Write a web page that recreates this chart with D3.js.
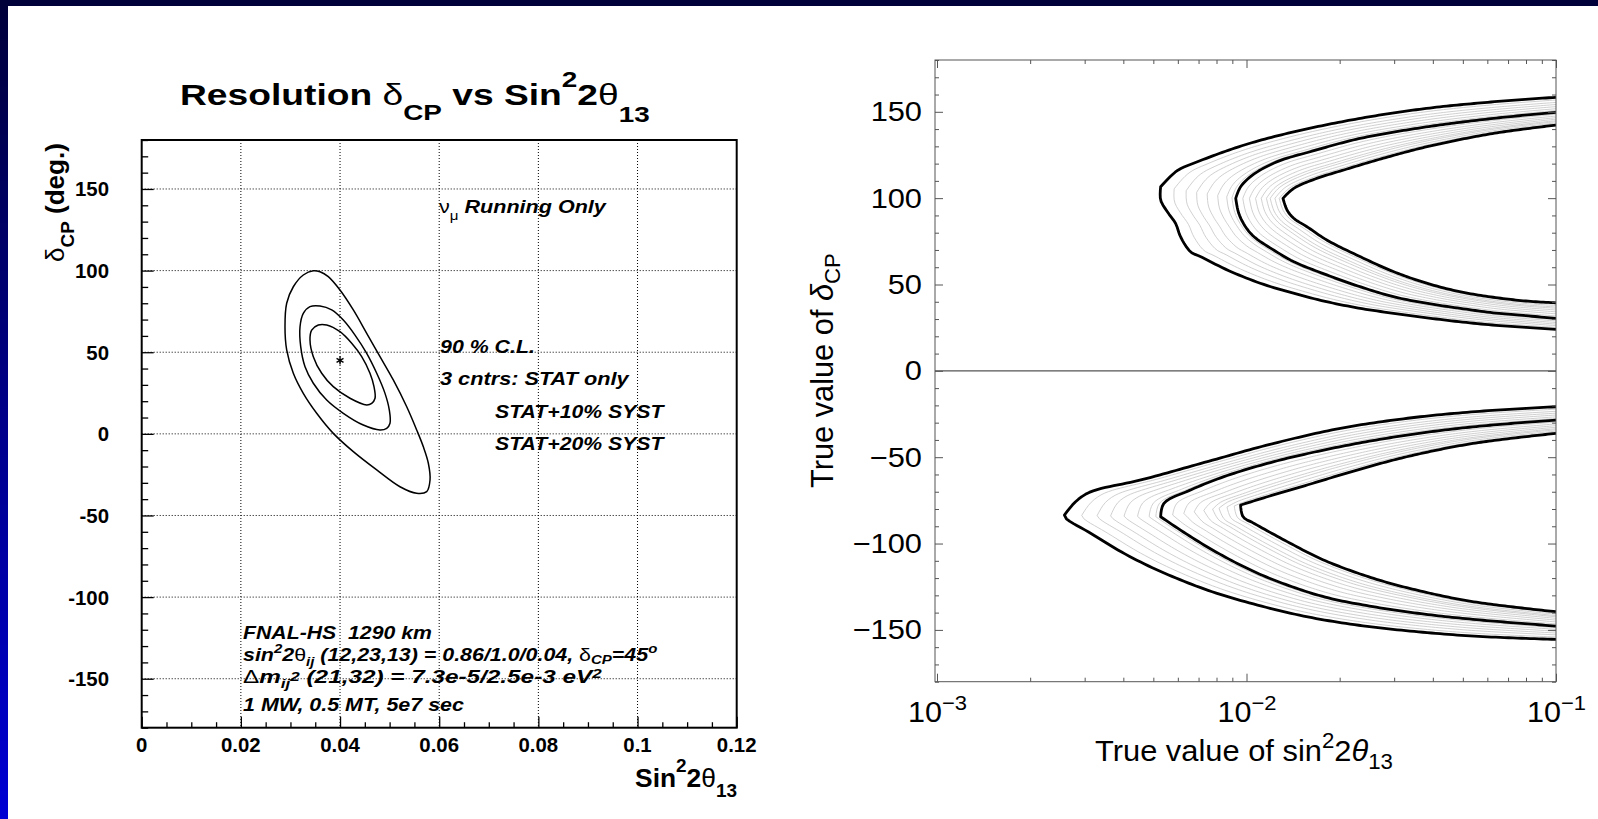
<!DOCTYPE html>
<html><head><meta charset="utf-8">
<script src="https://cdn.jsdelivr.net/npm/d3@7"></script>
<style>body{margin:0;background:#fff;}svg{display:block;}</style>
</head><body>
<svg id="c" width="1598" height="819"></svg>
<script>
// ---------------- DATA ----------------
// Left panel: 90% C.L. contours around the true point (sin^2 2theta13, deltaCP)
const leftXTicks = [0, 0.02, 0.04, 0.06, 0.08, 0.1, 0.12];
const leftXTickLabels = ["0", "0.02", "0.04", "0.06", "0.08", "0.1", "0.12"];
const leftYTicks = [-150, -100, -50, 0, 50, 100, 150];
const leftYTickLabels = ["-150", "-100", "-50", "0", "50", "100", "150"];
const bestFit = [0.04, 45];
const contourStat = [[0.03562,66.7],[0.03428,63.6],[0.03394,57.5],[0.03461,47.3],[0.0363,37.1],[0.03864,28.9],[0.04201,21.8],[0.04538,17.7],[0.04639,18.7],[0.04706,21.8],[0.04685,28.9],[0.04604,37.1],[0.04437,47.3],[0.04235,55.5],[0.03999,62.6],[0.03731,66.7]];
const contourSyst10 = [[0.03394,77.9],[0.03259,73.8],[0.03193,65.6],[0.03207,53.4],[0.03294,41.1],[0.03461,31.0],[0.03731,20.7],[0.04066,12.6],[0.04469,5.4],[0.04806,2.4],[0.04941,3.4],[0.05008,6.5],[0.04994,14.6],[0.04907,24.8],[0.0474,37.1],[0.04538,49.3],[0.04302,60.5],[0.04066,69.7],[0.03832,75.9],[0.03596,78.3]];
const contourSyst20 = [[0.03461,99.9],[0.03259,97.3],[0.03058,90.1],[0.02924,80.0],[0.0289,65.6],[0.02924,51.4],[0.03058,37.1],[0.03259,24.8],[0.03529,12.6],[0.03864,0.3],[0.04268,-10.9],[0.0474,-22.1],[0.05209,-32.4],[0.05546,-36.4],[0.05748,-35.4],[0.05815,-28.3],[0.05781,-18.0],[0.0568,-7.9],[0.05546,2.4],[0.05345,16.6],[0.05074,33.0],[0.04806,47.3],[0.04538,61.6],[0.04268,75.9],[0.03999,88.1],[0.03763,96.3],[0.03596,99.3]];

// Right panel: CP-resolution bands vs true sin^2 2theta13 (log x)
const rightYTicks = [-150, -100, -50, 0, 50, 100, 150];
const rightYTickLabels = ["\u2212150", "\u2212100", "\u221250", "0", "50", "100", "150"];
const rightXTicks = [1e-3, 1e-2, 1e-1];
const rightXTickExponents = ["\u22123", "\u22122", "\u22121"];
const upperOuter = [[0.1,158.4],[0.0628,155.8],[0.0383,152.0],[0.0233,146.2],[0.01422,138.4],[0.0098,130.7],[0.00693,121.0],[0.00597,115.9],[0.00528,106.6],[0.00528,98.9],[0.00555,92.1],[0.0059,85.4],[0.00612,77.7],[0.00659,69.0],[0.00711,66.1],[0.00867,58.4],[0.01109,50.7],[0.01422,44.9],[0.0182,40.0],[0.0233,36.2],[0.0299,33.3],[0.0383,30.7],[0.049,28.4],[0.0628,26.5],[0.1,24.0]];
const upperMiddle = [[0.1,149.7],[0.0628,146.2],[0.0383,141.3],[0.0233,134.6],[0.01607,126.9],[0.01256,121.1],[0.01054,113.8],[0.00957,106.6],[0.00923,99.9],[0.00944,91.2],[0.00993,83.4],[0.01057,77.7],[0.01225,69.9],[0.01422,63.2],[0.0182,55.5],[0.0233,48.7],[0.0299,42.9],[0.0383,39.1],[0.049,36.2],[0.0628,33.6],[0.0804,31.9],[0.1,30.4]];
const upperInner = [[0.1,142.3],[0.0628,137.5],[0.0383,129.8],[0.02642,122.1],[0.02061,116.3],[0.0169,111.5],[0.01422,105.7],[0.01312,99.9],[0.01352,93.1],[0.01422,88.3],[0.0157,83.4],[0.0182,75.7],[0.0233,66.1],[0.0299,57.4],[0.0383,50.7],[0.049,45.8],[0.0628,42.6],[0.0804,40.4],[0.1,39.4]];
const lowerOuter = [[0.1,-20.8],[0.0541,-23.7],[0.033,-27.5],[0.0201,-33.3],[0.01225,-42.0],[0.00746,-52.6],[0.00455,-63.2],[0.00326,-69.0],[0.00299,-71.9],[0.00277,-76.7],[0.00258,-83.5],[0.00261,-85.4],[0.00314,-94.1],[0.00402,-105.7],[0.00515,-115.3],[0.00746,-126.9],[0.01084,-135.6],[0.0157,-142.4],[0.0228,-147.2],[0.033,-150.5],[0.0541,-153.6],[0.1,-155.5]];
const lowerMiddle = [[0.1,-28.5],[0.0541,-32.4],[0.033,-37.2],[0.0201,-43.9],[0.01225,-52.6],[0.00845,-61.3],[0.00659,-69.0],[0.00541,-76.7],[0.00528,-84.5],[0.00612,-92.2],[0.00746,-101.9],[0.00957,-112.5],[0.01225,-121.1],[0.01778,-130.8],[0.02576,-136.6],[0.0373,-140.8],[0.0541,-143.9],[0.1,-147.8]];
const lowerInner = [[0.1,-36.2],[0.0541,-42.0],[0.033,-49.7],[0.0228,-57.4],[0.0157,-66.1],[0.01167,-72.9],[0.00957,-77.7],[0.00975,-84.5],[0.01057,-88.3],[0.01387,-99.9],[0.01778,-109.6],[0.02576,-120.2],[0.0373,-127.9],[0.0541,-133.7],[0.1,-139.5]];
// relative positions of the thin grey contours inside each band
const greyLevelsOuterBand = [0.18, 0.34, 0.48, 0.62, 0.76, 0.88, 0.95];
const greyLevelsInnerBand = [0.15, 0.29, 0.42, 0.54, 0.65, 0.73, 0.83, 0.92];

// ---------------- HELPERS ----------------
const FONT = "'Liberation Sans', Arial, Helvetica, sans-serif";
const svg = d3.select("#c");

function richText(parent, segs, o) {
  const g = parent.append("g").attr("transform", `translate(${o.x},${o.y})` + (o.rotate ? ` rotate(${o.rotate})` : ""));
  const t = g.append("text").attr("text-anchor", o.anchor || "start").attr("font-family", FONT)
    .attr("font-size", o.size).attr("font-weight", o.weight || "normal")
    .attr("font-style", o.style || "normal").attr("fill", o.fill || "#000");
  let shift = 0;
  segs.forEach(s => {
    const sp = t.append("tspan").text(s.t);
    let target = 0;
    if (s.sub) target = o.size * (s.dy != null ? s.dy : (o.subDy || 0.45));
    else if (s.sup) target = -o.size * (s.dy != null ? s.dy : (o.supDy || 0.5));
    if (target - shift !== 0) sp.attr("dy", target - shift);
    shift = target;
    if (s.sub || s.sup) sp.attr("font-size", o.size * (s.scale || o.subScale || 0.72));
    if (s.w) sp.attr("font-weight", s.w);
    if (s.st) sp.attr("font-style", s.st);
    if (s.dx) sp.attr("dx", s.dx);
  });
  if (o.width) {
    const w = t.node().getBBox().width;
    t.attr("transform", `scale(${o.width / w},1)`);
  } else if (o.sx) t.attr("transform", `scale(${o.sx},1)`);
  return t;
}
function tickAxis(g, axisFn, scale, values, size, color, width, transform) {
  const a = g.append("g").attr("transform", transform)
    .call(axisFn(scale).tickValues(values).tickSize(size).tickFormat(""));
  a.select(".domain").remove();
  a.selectAll("line").attr("stroke", color).attr("stroke-width", width);
  return a;
}

// ---------------- BACKGROUND / FRAME ----------------
svg.append("rect").attr("width", 1598).attr("height", 819).attr("fill", "#fff");
const defs = svg.append("defs");
const grad = defs.append("linearGradient").attr("id", "lb").attr("x1", 0).attr("y1", 0).attr("x2", 0).attr("y2", 1);
grad.append("stop").attr("offset", "0").attr("stop-color", "#00003a");
grad.append("stop").attr("offset", "0.5").attr("stop-color", "#000088");
grad.append("stop").attr("offset", "1").attr("stop-color", "#0000d4");
svg.append("rect").attr("x", 0).attr("y", 0).attr("width", 8).attr("height", 819).attr("fill", "url(#lb)");
svg.append("rect").attr("x", 0).attr("y", 0).attr("width", 1598).attr("height", 6).attr("fill", "#00003a");

// ---------------- LEFT PANEL ----------------
const L = {x0: 141.7, x1: 736.7, y0: 140, y1: 727.7};
const xL = d3.scaleLinear().domain([0, 0.12]).range([L.x0, L.x1]);
const yL = d3.scaleLinear().domain([-180, 180]).range([L.y1, L.y0]);
const lg = svg.append("g");

// grid (dotted)
lg.append("g").selectAll("line").data(leftXTicks.filter(v => v > 0 && v < 0.12)).join("line")
  .attr("x1", d => xL(d)).attr("x2", d => xL(d)).attr("y1", L.y0).attr("y2", L.y1)
  .attr("stroke", "#000").attr("stroke-width", 1).attr("stroke-dasharray", "1,2");
lg.append("g").selectAll("line").data(leftYTicks).join("line")
  .attr("y1", d => yL(d)).attr("y2", d => yL(d)).attr("x1", L.x0).attr("x2", L.x1)
  .attr("stroke", "#000").attr("stroke-width", 1).attr("stroke-dasharray", "1,2");

// contours
const closedLine = d3.line().x(d => xL(d[0])).y(d => yL(d[1])).curve(d3.curveCatmullRomClosed.alpha(0.5));
[contourStat, contourSyst10, contourSyst20].forEach(c => {
  lg.append("path").attr("d", closedLine(c)).attr("fill", "none").attr("stroke", "#000").attr("stroke-width", 1.5);
});
const sym = d3.symbolAsterisk || d3.symbolCross;
lg.append("path").attr("d", d3.symbol(sym, 45)())
  .attr("transform", `translate(${xL(bestFit[0])},${yL(bestFit[1])})`)
  .attr("fill", d3.symbolAsterisk ? "none" : "#000").attr("stroke", "#000").attr("stroke-width", 1.4);

// ticks
const lxMinor = xL.ticks(24);
tickAxis(lg, d3.axisBottom, xL, lxMinor.filter(v => Math.abs(v / 0.02 - Math.round(v / 0.02)) > 1e-6), -5.5, "#000", 1.3, `translate(0,${L.y1})`);
tickAxis(lg, d3.axisBottom, xL, leftXTicks, -11, "#000", 1.3, `translate(0,${L.y1})`);
const lyMinor = yL.ticks(36);
tickAxis(lg, d3.axisLeft, yL, lyMinor.filter(v => v % 50 !== 0), -6.5, "#000", 1.3, `translate(${L.x0},0)`);
tickAxis(lg, d3.axisLeft, yL, leftYTicks, -12, "#000", 1.3, `translate(${L.x0},0)`);

// frame
lg.append("rect").attr("x", L.x0).attr("y", L.y0).attr("width", L.x1 - L.x0).attr("height", L.y1 - L.y0)
  .attr("fill", "none").attr("stroke", "#000").attr("stroke-width", 2);

// tick labels
leftXTicks.forEach((v, i) => richText(lg, [{t: leftXTickLabels[i]}], {x: xL(v), y: 752, anchor: "middle", size: 20, weight: "bold", sx: 1.02}));
leftYTicks.forEach((v, i) => richText(lg, [{t: leftYTickLabels[i]}], {x: 109, y: yL(v) + 7.5, anchor: "end", size: 20, weight: "bold", sx: 1.02}));

// titles
richText(lg, [{t: "Resolution "}, {t: "\u03b4", w: "normal"}, {t: "CP", sub: true, dy: 0.5}, {t: " vs Sin"}, {t: "2", sup: true, dy: 0.6},
  {t: "2"}, {t: "\u03b8", w: "normal"}, {t: "13", sub: true, dy: 0.55}],
  {x: 180, y: 105, size: 30, weight: "bold", width: 470, subScale: 0.75});
richText(lg, [{t: "Sin"}, {t: "2", sup: true, dy: 0.6}, {t: "2"}, {t: "\u03b8", w: "normal"}, {t: "13", sub: true, dy: 0.4}],
  {x: 737, y: 787, anchor: "end", size: 25, weight: "bold", width: 102, subScale: 0.72});
richText(lg, [{t: "\u03b4", w: "normal"}, {t: "CP", sub: true, dy: 0.4}, {t: " (deg.)"}],
  {x: 64, y: 143, rotate: -90, anchor: "end", size: 25, weight: "bold", width: 119, subScale: 0.72});

// annotations
const ann = {size: 18, weight: "bold", style: "italic", subScale: 0.7, subDy: 0.25, supDy: 0.42};
richText(lg, [{t: "\u03bd", w: "normal", st: "normal"}, {t: "\u03bc", sub: true, dy: 0.4, w: "normal", st: "normal"}, {t: " Running Only"}],
  Object.assign({x: 439, y: 213, width: 168}, ann));
richText(lg, [{t: "90 % C.L."}], Object.assign({x: 440, y: 353, width: 95}, ann));
richText(lg, [{t: "3 cntrs: STAT only"}], Object.assign({x: 440, y: 385, width: 190}, ann));
richText(lg, [{t: "STAT+10% SYST"}], Object.assign({x: 495, y: 418, width: 171}, ann));
richText(lg, [{t: "STAT+20% SYST"}], Object.assign({x: 495, y: 450, width: 171}, ann));
richText(lg, [{t: "FNAL-HS \u00a01290 km"}], Object.assign({x: 243, y: 639, width: 189}, ann));
richText(lg, [{t: "sin"}, {t: "2", sup: true}, {t: "2"}, {t: "\u03b8", w: "normal", st: "normal"}, {t: "ij", sub: true},
  {t: " (12,23,13) = 0.86/1.0/0.04, "}, {t: "\u03b4", w: "normal", st: "normal"}, {t: "CP", sub: true, dy: 0.18}, {t: "=45"}, {t: "o", sup: true}],
  Object.assign({x: 243, y: 661, width: 415}, ann));
richText(lg, [{t: "\u0394", w: "normal", st: "normal"}, {t: "m"}, {t: "ij", sub: true}, {t: "2", sup: true, dy: 0.1},
  {t: " (21,32) = 7.3e-5/2.5e-3 eV"}, {t: "2", sup: true, dy: 0.3}],
  Object.assign({x: 243, y: 683, width: 359}, ann));
richText(lg, [{t: "1 MW, 0.5 MT, 5e7 sec"}], Object.assign({x: 243, y: 711, width: 221}, ann));

// ---------------- RIGHT PANEL ----------------
const R = {fx0: 935, x0: 937, x1: 1556, y0: 60, y1: 681.7};
const xR = d3.scaleLog().domain([1e-3, 1e-1]).range([R.x0, R.x1]);
const yR = d3.scaleLinear().domain([-180, 180]).range([R.y1, R.y0]);
const rg = svg.append("g");
defs.append("clipPath").attr("id", "rc").append("rect")
  .attr("x", R.fx0).attr("y", R.y0).attr("width", R.x1 - R.fx0).attr("height", R.y1 - R.y0);
const plotR = rg.append("g").attr("clip-path", "url(#rc)");

function branchSamples(pts, n) {
  const p = svg.append("path").attr("d", d3.line().curve(d3.curveCatmullRom.alpha(0.5))(pts)).attr("fill", "none");
  const node = p.node(), len = node.getTotalLength();
  const out = d3.range(n + 1).map(i => { const q = node.getPointAtLength(len * i / n); return [q.x, q.y]; });
  p.remove();
  return out;
}
function curveSamples(data) {
  const pts = data.map(d => [xR(d[0]), yR(d[1])]);
  const vi = d3.minIndex(pts, p => p[0]);
  const a = branchSamples(pts.slice(0, vi + 1), 120);
  const b = branchSamples(pts.slice(vi), 120);
  return a.concat(b.slice(1));
}
const lin = d3.line();
function drawBand(outer, middle, inner) {
  const so = curveSamples(outer), sm = curveSamples(middle), si = curveSamples(inner);
  const mix = (A, B, f) => A.map((p, i) => [p[0] + (B[i][0] - p[0]) * f, p[1] + (B[i][1] - p[1]) * f]);
  greyLevelsOuterBand.forEach(f => plotR.append("path").attr("d", lin(mix(so, sm, f))).attr("fill", "none").attr("stroke", "#c4c4c4").attr("stroke-width", 0.8));
  greyLevelsInnerBand.forEach(f => plotR.append("path").attr("d", lin(mix(sm, si, f))).attr("fill", "none").attr("stroke", "#c4c4c4").attr("stroke-width", 0.8));
  [so, sm, si].forEach(s => plotR.append("path").attr("d", lin(s)).attr("fill", "none").attr("stroke", "#000")
    .attr("stroke-width", 2.8).attr("stroke-linejoin", "round"));
}
drawBand(upperOuter, upperMiddle, upperInner);
drawBand(lowerOuter, lowerMiddle, lowerInner);

// zero line
plotR.append("line").attr("x1", R.fx0).attr("x2", R.x1).attr("y1", yR(0)).attr("y2", yR(0))
  .attr("stroke", "#555").attr("stroke-width", 1.4);

// ticks (inward, all four sides)
const rxAll = xR.ticks();
const isDecade = v => Math.abs(Math.log10(v) - Math.round(Math.log10(v))) < 1e-6;
const rxMinor = rxAll.filter(v => !isDecade(v));
const ryAll = yR.ticks(36);
const ryMinor = ryAll.filter(v => v % 50 !== 0);
const TC = "#555";
tickAxis(rg, d3.axisBottom, xR, rxMinor, -4, TC, 1, `translate(0,${R.y1})`);
tickAxis(rg, d3.axisBottom, xR, rightXTicks, -8, TC, 1, `translate(0,${R.y1})`);
tickAxis(rg, d3.axisTop, xR, rxMinor, -4, TC, 1, `translate(0,${R.y0})`);
tickAxis(rg, d3.axisTop, xR, rightXTicks, -8, TC, 1, `translate(0,${R.y0})`);
tickAxis(rg, d3.axisLeft, yR, ryMinor, -4, TC, 1, `translate(${R.fx0},0)`);
tickAxis(rg, d3.axisLeft, yR, rightYTicks, -8, TC, 1, `translate(${R.fx0},0)`);
tickAxis(rg, d3.axisRight, yR, ryMinor, -4, TC, 1, `translate(${R.x1},0)`);
tickAxis(rg, d3.axisRight, yR, rightYTicks, -8, TC, 1, `translate(${R.x1},0)`);

rg.append("rect").attr("x", R.fx0).attr("y", R.y0).attr("width", R.x1 - R.fx0).attr("height", R.y1 - R.y0)
  .attr("fill", "none").attr("stroke", "#555").attr("stroke-width", 1);

// tick labels
rightYTicks.forEach((v, i) => richText(rg, [{t: rightYTickLabels[i]}], {x: 922, y: yR(v) + 9.5, anchor: "end", size: 28, sx: 1.1}));
rightXTicks.forEach((v, i) => richText(rg, [{t: "10"}, {t: rightXTickExponents[i], sup: true, dy: 0.42, scale: 0.72}],
  {x: xR(v) - 29, y: 721.7, size: 29, width: 59}));

// axis titles
richText(rg, [{t: "True value of sin"}, {t: "2", sup: true, dy: 0.42}, {t: "2"}, {t: "\u03b8", st: "italic"}, {t: "13", sub: true, dy: 0.25}],
  {x: 1095, y: 761, size: 30, width: 298, subScale: 0.72});
richText(rg, [{t: "True value of "}, {t: "\u03b4", st: "italic"}, {t: "CP", sub: true, dy: 0.22}],
  {x: 833, y: 488, rotate: -90, size: 31, width: 235, subScale: 0.72});
</script>
</body></html>
